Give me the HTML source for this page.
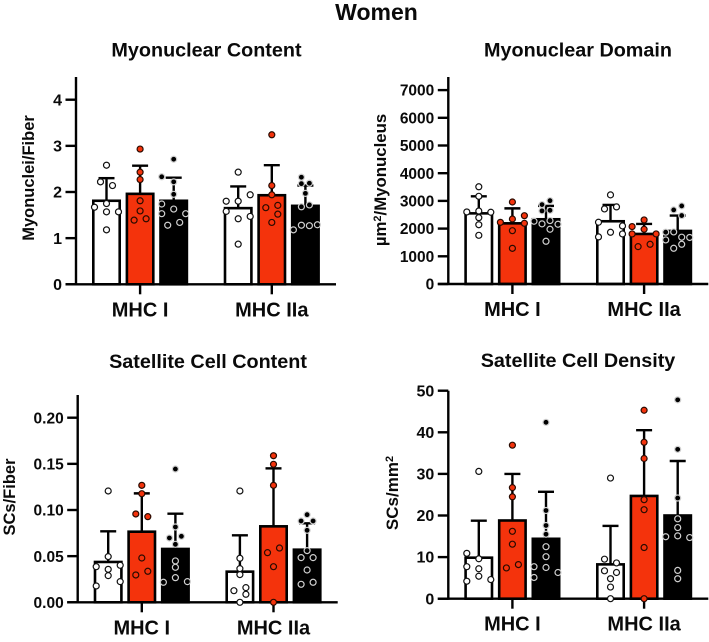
<!DOCTYPE html>
<html lang="en">
<head>
<meta charset="utf-8">
<title>Women</title>
<style>
html,body{margin:0;padding:0;background:#fff;}
svg{display:block;font-family:"Liberation Sans",Arial,sans-serif;font-weight:bold;fill:#0a0a0a;filter:blur(0.3px);}
</style>
</head>
<body>
<svg id="figure" width="709" height="642" viewBox="0 0 709 642" xmlns="http://www.w3.org/2000/svg">
<text x="376.5" y="20" text-anchor="middle" font-size="23">Women</text>
</svg>
<script>
// Categories and series names
const categories = ['MHC I', 'MHC IIa'];
const seriesNames = ['white', 'red', 'black'];
const seriesFill = ['#ffffff', '#f4330c', '#000000'];
const dotStroke = ['#111111', '#2a0a00', '#d0d0d0'];

// Myonuclear Content: means and SDs per [category][series]; points are swarm rows (null = empty slot)
const contentTicks = ['0', '1', '2', '3', '4'];
const contentMeans = [[1.81, 1.96, 1.81], [1.65, 1.93, 1.70]];
const contentSds = [[0.49, 0.61, 0.50], [0.47, 0.65, 0.44]];
const contentPoints = [
  [
    [[2.58], [2.22, 2.14], [1.75], [1.67, 1.57, 1.57], [1.18]],
    [[2.93], [2.43], [2.27], [1.81], [1.59], [1.39, 1.42]],
    [[2.71], [2.33, 2.22, null], [1.95], [1.74, 1.63, null], [1.53, null, 1.53], [1.28, 1.34]]
  ],
  [
    [[2.43], [1.80, 1.80, 1.94], [1.58, null, 1.47], [1.42], [0.87]],
    [[3.24], [2.14], [1.94], [1.66, 1.71], [null, 1.52], [1.34]],
    [[null, 2.32, null, null], [null, 2.18, 2.19, null], [1.97], [null, 1.68, 1.72, null], [1.18, 1.28, 1.27, 1.29]]
  ]
];

// Myonuclear Domain
const domainTicks = ['0', '1000', '2000', '3000', '4000', '5000', '6000', '7000'];
const domainMeans = [[2550, 2190, 2337], [2265, 1807, 1916]];
const domainSds = [[615, 540, 483], [590, 362, 554]];
const domainPoints = [
  [
    [[3510], [3165], [2600, 2635, 2590], [2395], [2140], [1757]],
    [[2960], [null, null, 2467], [2226, 2346, 2190], [1925], [1287]],
    [[null, 2866, 3008, null], [null, 2640, 2660, null], [2265, 2170, 2290, 2157], [null, null, 1976, null], [1542]]
  ],
  [
    [[3217], [2710, 2783], [2229, null, 2096], [null, 1867, 1807], [1700, null, null]],
    [[2313], [2072, 1976, null], [1807, null, 1807], [1349, 1434]],
    [[null, 2675, 2819, null], [null, null, 2470, null], [1870, 1880, null, null], [1590, null, 1690, 1680], [null, 1290, 1434, null]]
  ]
];

// Satellite Cell Content
const scContentTicks = ['0.00', '0.05', '0.10', '0.15', '0.20'];
const scContentMeans = [[0.0437, 0.0765, 0.0578], [0.0332, 0.0823, 0.0570]];
const scContentSds = [[0.0332, 0.0415, 0.0382], [0.0394, 0.0628, 0.0286]];
const scContentPoints = [
  [
    [[0.1206], [0.0495], [0.0386, 0.0357, 0.0401], [null, 0.0289, null], [null, null, 0.0224], [0.0177, null, null]],
    [[0.1267], [0.1177], [0.0957, 0.0928], [0.0480], [0.0296, 0.0336]],
    [[0.1444], [0.0816], [0.0697, 0.0715], [0.0628], [0.0448], [0.0379], [0.0267], [0.0217, null, 0.0224]]
  ],
  [
    [[0.1206], [0.0477], [0.0365], [0.0300], [0.0126, 0.0159], [null, 0.0087], [0]],
    [[0.1588], [0.1495], [0.1267], [0.0538, 0.0588], [0.0386], [0]],
    [[0.0949], [0.0881, 0.0881], [0.0780], [0.0560], [0.0484, 0.0484], [0.0350], [0.0195, 0.0217]]
  ]
];

// Satellite Cell Density
const scDensityTicks = ['0', '10', '20', '30', '40', '50'];
const scDensityMeans = [[9.86, 18.8, 14.4], [8.25, 24.7, 20.0]];
const scDensitySds = [[8.89, 11.2, 11.3], [9.25, 15.8, 13.1]];
const scDensityPoints = [
  [
    [[30.6], [10.9, 9.6, null], [7.7, 7.2, null], [null, 5.4, 4.6], [4.2, null, null]],
    [[36.9], [26.7], [24.5], [16.2], [13.1], [7.4, 8.2]],
    [[42.4], [21.2], [17.6], [15.5], [12.5], [10.1], [7.7, 7.5, 6.3], [5.1, null, null]]
  ],
  [
    [[29.0], [9.5, 8.6], [6.7, 6.3], [4.8], [2.8], [0]],
    [[45.3], [37.6], [33.7], [23.8], [21.4], [12.3], [0]],
    [[47.8], [35.9], [24.2], [19.2], [17.1], [14.9, 15.1, 14.7], [6.8], [4.8]]
  ]
];

const NS = 'http://www.w3.org/2000/svg';
const svg = document.getElementById('figure');
const LINE = 2.4;

function make(tag, attrs, parent) {
  const el = document.createElementNS(NS, tag);
  for (const k in attrs) el.setAttribute(k, attrs[k]);
  (parent || svg).appendChild(el);
  return el;
}

function rowStep(n) {
  if (n <= 1) return 0;
  return n <= 3 ? 12 : 24 / (n - 1);
}

function drawPanel(p) {
  const g = make('g', {});
  
  

  const yScale = v => p.baseY - (v / p.tickStep) * p.tickPx;
  const xScale = (c, s) => p.axisX + 30.5 + c * 131.7 + s * 33.6;

  const title = make('text', {x: p.titleX, y: p.titleY, 'text-anchor': 'middle', 'font-size': 19.8}, g);
  
  
  title.textContent = p.title;

  const yTitle = make('text', {transform: 'translate(' + p.yTitleX + ',' + p.yTitleY + ') rotate(-90)', 'text-anchor': 'middle', 'font-size': p.yTitleSize}, g);
  
  
  p.yTitle.forEach(part => {
    const t = make('tspan', part.sup ? {dy: -5, 'font-size': 11} : (part.after ? {dy: 5} : {}), yTitle);
    t.textContent = part.text;
  });

  // Bars, error bars
  p.means.forEach((row, c) => {
    row.forEach((mean, s) => {
      const cx = xScale(c, s);
      const top = yScale(mean);
      const bar = make('rect', {x: cx - 13.2, y: top, width: 26.4, height: p.baseY - top, fill: seriesFill[s], stroke: '#000', 'stroke-width': 2.6}, g);
      
      

      const upper = yScale(mean + p.sds[c][s]);
      const stem = make('line', {x1: cx, x2: cx, y1: top, y2: upper, stroke: '#000', 'stroke-width': LINE}, g);
      
      
      const cap = make('line', {x1: cx - 8, x2: cx + 8, y1: upper, y2: upper, stroke: '#000', 'stroke-width': LINE}, g);
      
      
    });
  });

  // Axes and ticks
  const yAxis = make('line', {x1: p.axisX, x2: p.axisX, y1: p.axisTop, y2: p.baseY + 1, stroke: '#000', 'stroke-width': LINE}, g);
  
  
  const xAxis = make('line', {x1: p.axisX - 10.5, x2: p.axisX + 260, y1: p.baseY, y2: p.baseY, stroke: '#000', 'stroke-width': LINE}, g);
  
  

  p.ticks.forEach((label, i) => {
    const y = p.baseY - i * p.tickPx;
    const tick = make('line', {x1: p.axisX - 10.5, x2: p.axisX, y1: y, y2: y, stroke: '#000', 'stroke-width': LINE}, g);
    
    
    const text = make('text', {x: p.axisX - 14, y: y + 5.6, 'text-anchor': 'end', 'font-size': p.tickSize}, g);
    
    
    text.textContent = label;
  });

  categories.forEach((cat, c) => {
    const cx = xScale(c, 1);
    const tick = make('line', {x1: cx, x2: cx, y1: p.baseY, y2: p.baseY + 10, stroke: '#000', 'stroke-width': LINE}, g);
    
    
    const text = make('text', {x: cx, y: p.baseY + 32, 'text-anchor': 'middle', 'font-size': 20}, g);
    
    
    text.textContent = cat;
  });

  // Individual data points
  p.points.forEach((group, c) => {
    group.forEach((rows, s) => {
      const cx = xScale(c, s);
      rows.forEach(row => {
        const step = rowStep(row.length);
        row.forEach((v, i) => {
          if (v === null) return;
          const dot = make('circle', {cx: cx + (i - (row.length - 1) / 2) * step, cy: yScale(v), r: 3, fill: seriesFill[s], stroke: dotStroke[s], 'stroke-width': 1.2}, g);
          
          
        });
      });
    });
  });
}

drawPanel({name: 'myonuclear-content', title: 'Myonuclear Content', titleX: 206.5, titleY: 56.5,
  yTitle: [{text: 'Myonuclei/Fiber'}], yTitleX: 34, yTitleY: 178, yTitleSize: 16.5,
  axisX: 76, axisTop: 77, baseY: 284.3, tickPx: 46.15, tickStep: 1, tickSize: 16,
  ticks: contentTicks, means: contentMeans, sds: contentSds, points: contentPoints});

drawPanel({name: 'myonuclear-domain', title: 'Myonuclear Domain', titleX: 578, titleY: 56.5,
  yTitle: [{text: 'µm'}, {text: '2', sup: true}, {text: '/Myonucleus', after: true}], yTitleX: 386, yTitleY: 180, yTitleSize: 16.8,
  axisX: 448.3, axisTop: 77, baseY: 284, tickPx: 27.7, tickStep: 1000, tickSize: 15.5,
  ticks: domainTicks, means: domainMeans, sds: domainSds, points: domainPoints});

drawPanel({name: 'satellite-cell-content', title: 'Satellite Cell Content', titleX: 208, titleY: 368,
  yTitle: [{text: 'SCs/Fiber'}], yTitleX: 15, yTitleY: 497, yTitleSize: 16.5,
  axisX: 77.7, axisTop: 395, baseY: 602.3, tickPx: 46.15, tickStep: 0.05, tickSize: 15.5,
  ticks: scContentTicks, means: scContentMeans, sds: scContentSds, points: scContentPoints});

drawPanel({name: 'satellite-cell-density', title: 'Satellite Cell Density', titleX: 578, titleY: 367,
  yTitle: [{text: 'SCs/mm'}, {text: '2', sup: true}], yTitleX: 398, yTitleY: 493, yTitleSize: 17,
  axisX: 448.3, axisTop: 390.7, baseY: 598.7, tickPx: 41.6, tickStep: 10, tickSize: 16,
  ticks: scDensityTicks, means: scDensityMeans, sds: scDensitySds, points: scDensityPoints});
</script>
</body>
</html>
